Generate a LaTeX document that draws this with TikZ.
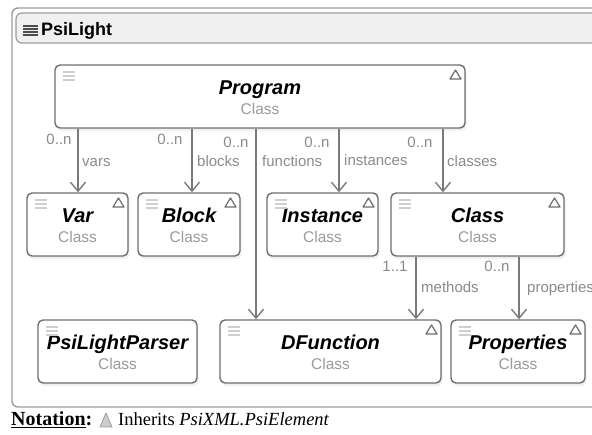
\documentclass[tikz,border=0pt]{standalone}
\usepackage{fontspec}
\setmainfont{Liberation Serif}
\setsansfont{Liberation Sans}
\usetikzlibrary{arrows.meta,shadows}
\definecolor{boxline}{HTML}{6E6E6E}
\definecolor{conngray}{HTML}{7A7A7A}
\definecolor{labgray}{HTML}{8A8A8A}
\definecolor{classgray}{HTML}{9A9A9A}
\definecolor{icongray}{HTML}{CFCFCF}
\definecolor{framegray}{HTML}{9C9C9C}
\definecolor{hdrfill}{HTML}{F0F0F0}
\tikzset{
  cbox/.style={draw=boxline, line width=1.4pt, rounded corners=5pt, fill=white,
    drop shadow={opacity=0.12, shadow xshift=1.5pt, shadow yshift=-3pt}, inner sep=0pt},
  ctitle/.style={font=\sffamily\bfseries\itshape\fontsize{20}{20}\selectfont, inner sep=0pt},
  cclass/.style={font=\sffamily\fontsize{15.5}{15.5}\selectfont, text=classgray, inner sep=0pt},
  elabel/.style={font=\sffamily\fontsize{15}{15}\selectfont, text=labgray, inner sep=0pt},
  conn/.style={draw=conngray, line width=1.4pt, -{Straight Barb[length=9pt,width=15pt]}},
  tri/.style={draw=boxline, line width=1.2pt, line join=round},
  iconline/.style={draw=icongray, line width=1.2pt}
}
\newcommand\classbox[6]{%
  \pgfmathsetmacro\cbw{#4-#2}\pgfmathsetmacro\cbx{(#2+#4)/2}%
  \node[cbox, minimum width=\cbw pt, minimum height=63pt] (#1) at (\cbx,#3+31.5) {};
  \node[ctitle, anchor=base] (#1t) at (\cbx,#3+30) {#5};
  \node[cclass, anchor=base] (#1c) at (\cbx,#3+50) {Class};
  \foreach \k in {0,1,2} \draw[iconline] (#2+8,#3+7+4*\k) -- (#2+20,#3+7+4*\k);
  \ifnum#6=1 \draw[tri] (#4-15,#3+14) -- (#4-4,#3+14) -- (#4-9.5,#3+5) -- cycle;\fi
}
\begin{document}
\begin{tikzpicture}[x=1pt,y=-1pt]
\useasboundingbox (0,0) rectangle (592,435);
\clip (0,0) rectangle (592,435);
% outer frame and header
\draw[draw=framegray, line width=1.4pt, rounded corners=6pt] (12,8) rectangle (620,407);
\draw[draw=framegray, fill=hdrfill, line width=1.2pt, rounded corners=6pt] (16,13) rectangle (620,43);
\foreach \k in {0,1,2,3} \draw[draw=black!70, line width=1.1pt] (23,26+3*\k) -- (38,26+3*\k);
\node[anchor=base west, inner sep=0pt, font=\sffamily\bfseries\fontsize{18}{18}\selectfont] (hdr) at (41,36) {PsiLight};

% classes
\classbox{program}{55}{65}{465}{Program}{1}
\classbox{var}{27}{193}{128}{Var}{1}
\classbox{block}{138}{193}{240}{Block}{1}
\classbox{instance}{267}{193}{378}{Instance}{1}
\classbox{class}{391}{193}{564}{Class}{1}
\classbox{parser}{38}{320}{197}{PsiLightParser}{0}
\classbox{dfunction}{220}{320}{441}{DFunction}{1}
\classbox{properties}{451}{320}{585}{Properties}{1}

% connector end points
\coordinate (vIn) at ([xshift=0.5pt]var.north);
\coordinate (bIn) at ([xshift=3pt]block.north);
\coordinate (fIn) at ([xshift=-74.5pt]dfunction.north);
\coordinate (iIn) at ([xshift=16.5pt]instance.north);
\coordinate (cIn) at ([xshift=-34.5pt]class.north);
\coordinate (mIn) at ([xshift=85.5pt]dfunction.north);
\coordinate (pIn) at ([xshift=1pt]properties.north);

\draw[conn] (program.south -| vIn) -- (vIn);
\draw[conn] (program.south -| bIn) -- (bIn);
\draw[conn] (program.south -| fIn) -- (fIn);
\draw[conn] (program.south -| iIn) -- (iIn);
\draw[conn] (program.south -| cIn) -- (cIn);
\draw[conn] (class.south -| mIn) -- (mIn);
\draw[conn] (class.south -| pIn) -- (pIn);

% edge labels
\node[elabel, anchor=base] (l1) at (59,145) {0..n};
\node[elabel, anchor=base west] (l2) at (82,167) {vars};
\node[elabel, anchor=base] (l3) at (170,145) {0..n};
\node[elabel, anchor=base west] (l4) at (197,167) {blocks};
\node[elabel, anchor=base] (l5) at (236,148) {0..n};
\node[elabel, anchor=base west] (l6) at (262,167) {functions};
\node[elabel, anchor=base] (l7) at (317,148) {0..n};
\node[elabel, anchor=base west] (l8) at (344,166) {instances};
\node[elabel, anchor=base] (l9) at (420,148) {0..n};
\node[elabel, anchor=base west] (l10) at (447,167) {classes};
\node[elabel, anchor=base] (l11) at (395,272) {1..1};
\node[elabel, anchor=base west] (l12) at (421,293) {methods};
\node[elabel, anchor=base] (l13) at (497,272) {0..n};
\node[elabel, anchor=base west] (l14) at (527,293) {properties};

% notation
\node[anchor=base west, inner sep=0pt, font=\rmfamily\bfseries\fontsize{20}{20}\selectfont] (nt) at (11,426) {\underline{Notation}:};
\draw[draw=framegray, fill=black!20, line width=0.8pt, line join=round] (100,427) -- (112,427) -- (106,413) -- cycle;
\node[anchor=base west, inner sep=0pt, font=\rmfamily\fontsize{18.5}{18.5}\selectfont] (inh) at (118,426) {Inherits \textit{PsiXML.PsiElement}};
\end{tikzpicture}
\end{document}
